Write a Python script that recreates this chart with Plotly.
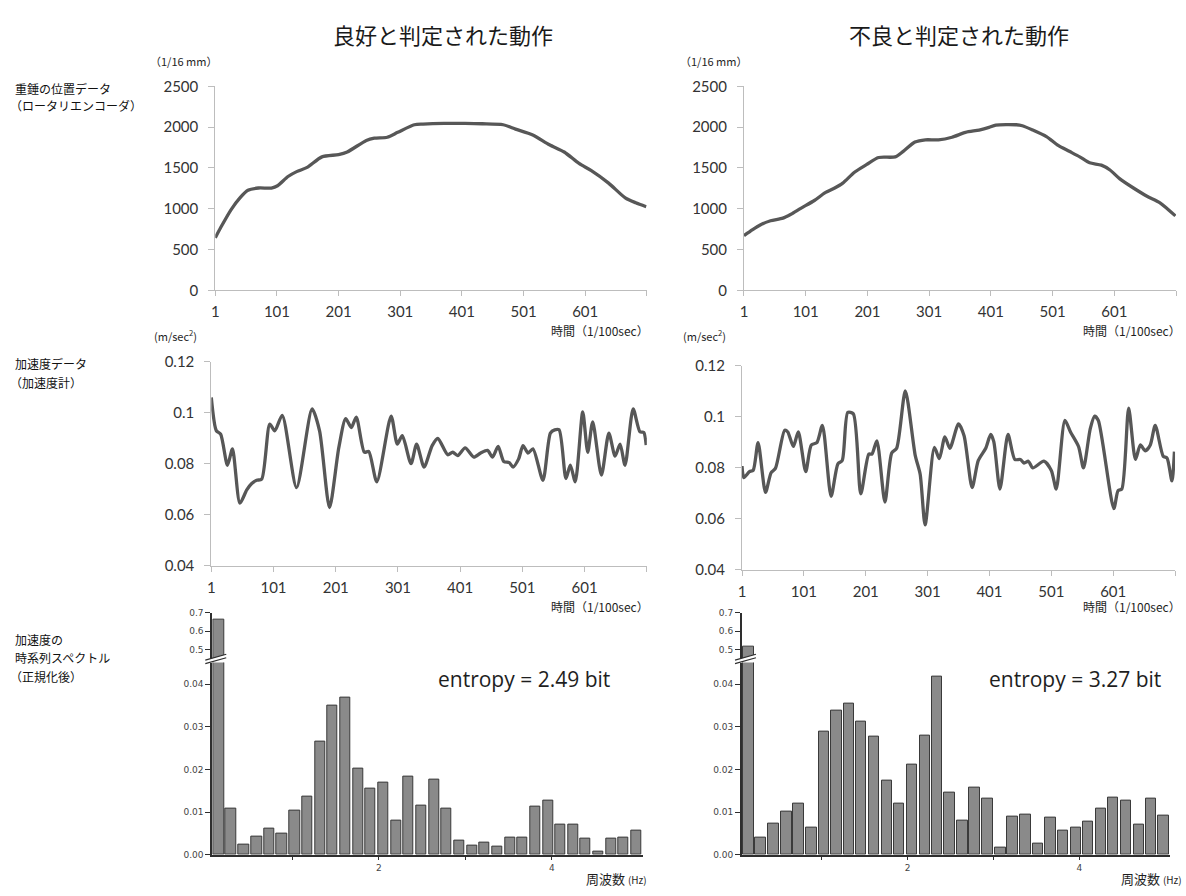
import plotly.graph_objects as go

# ---------------- data ----------------
time_tickvals = [1, 101, 201, 301, 401, 501, 601, 701]
time_ticktext = ["1", "101", "201", "301", "401", "501", "601", ""]

pos_good_t = [1, 10, 27, 41, 54, 71, 92, 102, 119, 133, 150, 174, 201, 215, 246, 259, 280, 297, 324, 338,
              372, 406, 434, 468, 488, 516, 543, 567, 591, 611, 639, 666, 683, 700]
pos_good_v = [643, 772, 993, 1133, 1226, 1254, 1254, 1282, 1395, 1455, 1507, 1636, 1664, 1696, 1837, 1865, 1877,
              1937, 2030, 2038, 2046, 2046, 2042, 2030, 1977, 1905, 1784, 1696, 1555, 1467, 1314, 1133, 1073, 1025]

pos_bad_t = [1, 15, 28, 44, 64, 77, 93, 115, 132, 148, 161, 180, 200, 219, 246, 259, 278, 295, 316, 338, 360,
             382, 398, 409, 442, 452, 469, 491, 510, 528, 545, 561, 580, 594, 610, 632, 654, 675, 700]
pos_bad_v = [671, 744, 804, 852, 884, 932, 1005, 1101, 1194, 1254, 1314, 1447, 1543, 1628, 1636, 1704, 1817, 1845,
             1845, 1877, 1937, 1965, 1997, 2026, 2030, 2018, 1965, 1885, 1776, 1704, 1636, 1563, 1535, 1475, 1366,
             1254, 1153, 1073, 912]

acc_good_t = [1, 9, 16, 27, 35, 47, 58, 66, 74, 82, 95, 103, 115, 138, 163, 175, 191, 206, 217, 226,
              234, 247, 254, 267, 290, 300, 308, 322, 331, 343, 356, 365, 381, 389, 397, 409, 423, 434, 445, 453,
              462, 471, 480, 486, 495, 502, 510, 518, 534, 546, 553, 560, 571, 578, 586, 598, 606, 614, 628, 640,
              650, 658, 666, 679, 690, 696, 700]
acc_good_v = [0.106, 0.093, 0.0916, 0.0794, 0.0858, 0.0645, 0.0697, 0.0722, 0.0735, 0.0739,
              0.0955, 0.0929, 0.099, 0.0706, 0.1015, 0.0929, 0.0628, 0.0864, 0.0977, 0.0942,
              0.0983, 0.0845, 0.0848, 0.0729, 0.0987, 0.0877, 0.091, 0.080, 0.0877, 0.0787,
              0.0871, 0.0899, 0.0835, 0.0845, 0.0832, 0.0862, 0.0826, 0.0842, 0.0852, 0.0826,
              0.0868, 0.0809, 0.0804, 0.0787, 0.0819, 0.0871, 0.0842, 0.0858, 0.0735, 0.092,
              0.0933, 0.0933, 0.0742, 0.0794, 0.0729, 0.1003, 0.0845, 0.0964, 0.0755, 0.092,
              0.083, 0.0877, 0.0794, 0.1015, 0.0925, 0.0923, 0.0873]

acc_bad_t = [1, 4, 13, 19, 27, 39, 48, 55, 70, 75, 84, 92, 104, 113, 122, 131, 145, 156, 163, 172,
             181, 193, 206, 211, 219, 232, 243, 251, 265, 281, 289, 297, 312, 320, 329, 337, 351, 360, 373, 383,
             395, 403, 408, 418, 431, 442, 451, 457, 464, 471, 489, 501, 509, 523, 532, 545, 553, 564, 571, 577,
             602, 609, 615, 626, 637, 645, 653, 661, 669, 682, 688, 696, 700]
acc_bad_v = [0.0806, 0.0761, 0.0784, 0.0789, 0.0898, 0.0703, 0.078, 0.0797, 0.0947, 0.094,
             0.0883, 0.094, 0.0784, 0.0889, 0.0898, 0.0966, 0.0687, 0.0815, 0.0828, 0.1017,
             0.1011, 0.0697, 0.0853, 0.0853, 0.0905, 0.0665, 0.0857, 0.0876, 0.1101, 0.0848,
             0.0774, 0.0575, 0.0879, 0.0835, 0.0921, 0.0876, 0.0972, 0.0925, 0.0722, 0.0828,
             0.0876, 0.093, 0.0902, 0.0716, 0.093, 0.0832, 0.0832, 0.0818, 0.0825, 0.0799,
             0.0825, 0.0789, 0.0716, 0.0985, 0.094, 0.0883, 0.0799, 0.0953, 0.1002, 0.0985,
             0.0639, 0.071, 0.0716, 0.1033, 0.0832, 0.0889, 0.0866, 0.0889, 0.0966, 0.0844,
             0.0838, 0.0748, 0.0863]

freq_hz = [0.15, 0.29, 0.44, 0.59, 0.73, 0.88, 1.03, 1.17, 1.32, 1.46, 1.61, 1.76, 1.90, 2.05, 2.20, 2.34, 2.49,
           2.64, 2.78, 2.93, 3.08, 3.22, 3.37, 3.52, 3.66, 3.81, 3.96, 4.10, 4.25, 4.39, 4.54, 4.69, 4.83, 4.98]
spec_good = [0.66, 0.0108, 0.0024, 0.0043, 0.0061, 0.005, 0.0104, 0.0137, 0.0266, 0.035,
             0.0369, 0.0203, 0.0156, 0.0168, 0.008, 0.0184, 0.0116, 0.0176, 0.0109, 0.0033,
             0.0021, 0.0028, 0.0018, 0.0041, 0.0041, 0.0113, 0.0127, 0.007, 0.007, 0.0038,
             0.0008, 0.0038, 0.0041, 0.0056]
spec_bad = [0.52, 0.0041, 0.0072, 0.0100, 0.012, 0.0064, 0.0288, 0.0339, 0.0355, 0.0312,
            0.0277, 0.0174, 0.012, 0.0211, 0.028, 0.0417, 0.0145, 0.008, 0.0158, 0.0132,
            0.0017, 0.009, 0.0093, 0.0025, 0.0087, 0.0056, 0.0063, 0.0077, 0.0109, 0.0134,
            0.0126, 0.007, 0.0132, 0.0091]
entropy_good = 2.49
entropy_bad = 3.27

# ---------------- layout helpers ----------------
W, H = 1186, 896


def dx(a, b):
    return [a / W, b / W]


def dy(top, bottom):
    return [1 - bottom / H, 1 - top / H]


def px(a):
    return a / W


def py(b):
    return 1 - b / H


LINE_COL = "#575757"
AX_COL = "#bdbdbd"
TXT = "#333333"
NUM_FONT = dict(family="Lato, Open Sans, sans-serif", size=15, color=TXT)
JP = "Noto Sans CJK JP"

fig = go.Figure()

line_style = dict(color=LINE_COL, width=3.3, shape="spline", smoothing=0.7)
fig.add_trace(go.Scatter(x=pos_good_t, y=pos_good_v, mode="lines", line=line_style, xaxis="x", yaxis="y"))
fig.add_trace(go.Scatter(x=pos_bad_t, y=pos_bad_v, mode="lines", line=line_style, xaxis="x2", yaxis="y2"))
fig.add_trace(go.Scatter(x=acc_good_t, y=acc_good_v, mode="lines", line=line_style, xaxis="x3", yaxis="y3"))
fig.add_trace(go.Scatter(x=acc_bad_t, y=acc_bad_v, mode="lines", line=line_style, xaxis="x4", yaxis="y4"))

bar_marker = dict(color="#8a8a8a", line=dict(color="#3a3a3a", width=1))
for xa, ya, vals in [("x5", "y5", spec_good), ("x6", "y6", spec_good),
                     ("x7", "y7", spec_bad), ("x8", "y8", spec_bad)]:
    fig.add_trace(go.Bar(x=freq_hz, y=vals, width=0.122, marker=bar_marker, xaxis=xa, yaxis=ya))

time_x = dict(range=[1, 701], tickmode="array", tickvals=time_tickvals, ticktext=time_ticktext,
              showline=True, linecolor=AX_COL, linewidth=1, ticks="outside", ticklen=5, tickcolor=AX_COL,
              showgrid=False, zeroline=False, tickfont=NUM_FONT, ticklabelstandoff=3)
time_y = dict(showline=True, linecolor=AX_COL, linewidth=1, ticks="outside", ticklen=6, tickcolor=AX_COL,
              showgrid=False, zeroline=False, tickfont=NUM_FONT, ticklabelstandoff=7)

SPEC_FONT = dict(family="DejaVu Sans", size=9, color="#444444")
freq_range = [0.073, 5.054]
spec_x = dict(range=freq_range, tickmode="array", tickvals=[1, 2, 3, 4], ticktext=["", "2", "", "4"],
              showline=True, linecolor="#2e2e2e", linewidth=1.5, ticks="outside", ticklen=4,
              tickcolor="#2e2e2e", showgrid=False, zeroline=False, tickfont=SPEC_FONT)
spec_x_hidden = dict(range=freq_range, visible=False, showgrid=False, zeroline=False)
spec_y_low = dict(range=[0, 0.04506], tickmode="array", tickvals=[0, 0.01, 0.02, 0.03, 0.04],
                  ticktext=["0.00", "0.01", "0.02", "0.03", "0.04"],
                  showline=True, linecolor="#2e2e2e", linewidth=2, ticks="outside", ticklen=5,
                  tickcolor="#2e2e2e", showgrid=False, zeroline=False, tickfont=SPEC_FONT)
spec_y_high = dict(range=[0.4526, 0.7], tickmode="array", tickvals=[0.5, 0.6, 0.7],
                   ticktext=["0.5", "0.6", "0.7"],
                   showline=True, linecolor="#2e2e2e", linewidth=2, ticks="outside", ticklen=5,
                   tickcolor="#2e2e2e", showgrid=False, zeroline=False, tickfont=SPEC_FONT)

fig.update_layout(
    width=W, height=H, margin=dict(l=0, r=0, t=0, b=0),
    paper_bgcolor="white", plot_bgcolor="white", showlegend=False, bargap=0,
    xaxis=dict(time_x, domain=dx(212, 645), anchor="y"),
    yaxis=dict(time_y, domain=dy(78, 286), range=[0, 2500], tickvals=[0, 500, 1000, 1500, 2000, 2500], anchor="x"),
    xaxis2=dict(time_x, domain=dx(742.5, 1176), anchor="y2"),
    yaxis2=dict(time_y, domain=dy(78, 286), range=[0, 2500], tickvals=[0, 500, 1000, 1500, 2000, 2500], anchor="x2"),
    xaxis3=dict(time_x, domain=dx(208, 645), anchor="y3"),
    yaxis3=dict(time_y, domain=dy(359, 567), range=[0.04, 0.12], tickvals=[0.04, 0.06, 0.08, 0.1, 0.12],
                ticktext=["0.04", "0.06", "0.08", "0.1", "0.12"], anchor="x3"),
    xaxis4=dict(time_x, domain=dx(740.5, 1175), anchor="y4"),
    yaxis4=dict(time_y, domain=dy(363, 571), range=[0.04, 0.12], tickvals=[0.04, 0.06, 0.08, 0.1, 0.12],
                ticktext=["0.04", "0.06", "0.08", "0.1", "0.12"], anchor="x4"),
    xaxis5=dict(spec_x, domain=dx(209, 641), anchor="y5"),
    yaxis5=dict(spec_y_low, domain=dy(666, 862), anchor="x5"),
    xaxis6=dict(spec_x_hidden, domain=dx(209, 641), anchor="y6"),
    yaxis6=dict(spec_y_high, domain=dy(615, 662), anchor="x6"),
    xaxis7=dict(spec_x, domain=dx(740.5, 1170), anchor="y7"),
    yaxis7=dict(spec_y_low, domain=dy(666, 862), anchor="x7"),
    xaxis8=dict(spec_x_hidden, domain=dx(740.5, 1170), anchor="y8"),
    yaxis8=dict(spec_y_high, domain=dy(615, 662), anchor="x8"),
)

# ---------------- axis break marks ----------------
shapes = []
for ax_x in (209, 740.5):
    x0, x1 = ax_x - 7, ax_x + 14
    path = (f"M {px(x0)},{py(667)} L {px(x1)},{py(661)} L {px(x1)},{py(657.5)} "
            f"L {px(x0)},{py(663.5)} Z")
    shapes.append(dict(type="path", xref="paper", yref="paper", path=path,
                       fillcolor="white", line=dict(width=0), layer="above"))
    shapes.append(dict(type="line", xref="paper", yref="paper", x0=px(x0), y0=py(667), x1=px(x1), y1=py(661),
                       line=dict(color="#2e2e2e", width=1.2), layer="above"))
    shapes.append(dict(type="line", xref="paper", yref="paper", x0=px(x0), y0=py(663.5), x1=px(x1),
                       y1=py(657.5), line=dict(color="#2e2e2e", width=1.2), layer="above"))
fig.update_layout(shapes=shapes)

# ---------------- text ----------------
ann = []


def add_text(x, y, text, size, anchor="left", family=JP, color="#1e1e1e", yanchor="middle"):
    ann.append(dict(x=px(x), y=py(y), xref="paper", yref="paper", text=text, showarrow=False,
                    xanchor=anchor, yanchor=yanchor, font=dict(family=family, size=size, color=color)))


add_text(440, 25, "良好と判定された動作", 22, anchor="center", color="#1a1a1a")
add_text(958, 25, "不良と判定された動作", 22, anchor="center", color="#1a1a1a")

add_text(144, 52, "（1/16 mm）", 11)
add_text(676, 52, "（1/16 mm）", 11)
add_text(148, 332, "(m/sec<sup>2</sup>)", 11)
add_text(679, 332, "(m/sec<sup>2</sup>)", 11)

add_text(9, 80, "重錘の位置データ", 12, color="#111111")
add_text(4, 97, "（ロータリエンコーダ）", 12, color="#111111")
add_text(9, 361, "加速度データ", 12, color="#111111")
add_text(4, 380, "（加速度計）", 12, color="#111111")
add_text(9, 642, "加速度の", 12, color="#111111")
add_text(9, 661, "時系列スペクトル", 12, color="#111111")
add_text(4, 680, "（正規化後）", 12, color="#111111")

for xr in (649, 1183):
    add_text(xr, 327, "時間（1/100sec）", 12, anchor="right")
    add_text(xr, 609, "時間（1/100sec）", 12, anchor="right")

add_text(647, 886, "周波数 <span style='font-size:10px'>(Hz)</span>", 13, anchor="right")
add_text(1184, 886, "周波数 <span style='font-size:10px'>(Hz)</span>", 13, anchor="right")

add_text(522, 683, f"entropy = {entropy_good:.2f} bit", 21, anchor="center",
         family="Open Sans, sans-serif", color="#1e1e1e")
add_text(1075, 683, f"entropy = {entropy_bad:.2f} bit", 21, anchor="center",
         family="Open Sans, sans-serif", color="#1e1e1e")

fig.update_layout(annotations=ann)

fig.write_html("out.html", config={"displayModeBar": False},
               post_script="document.body.style.margin='0px';document.body.style.overflow='hidden';")
